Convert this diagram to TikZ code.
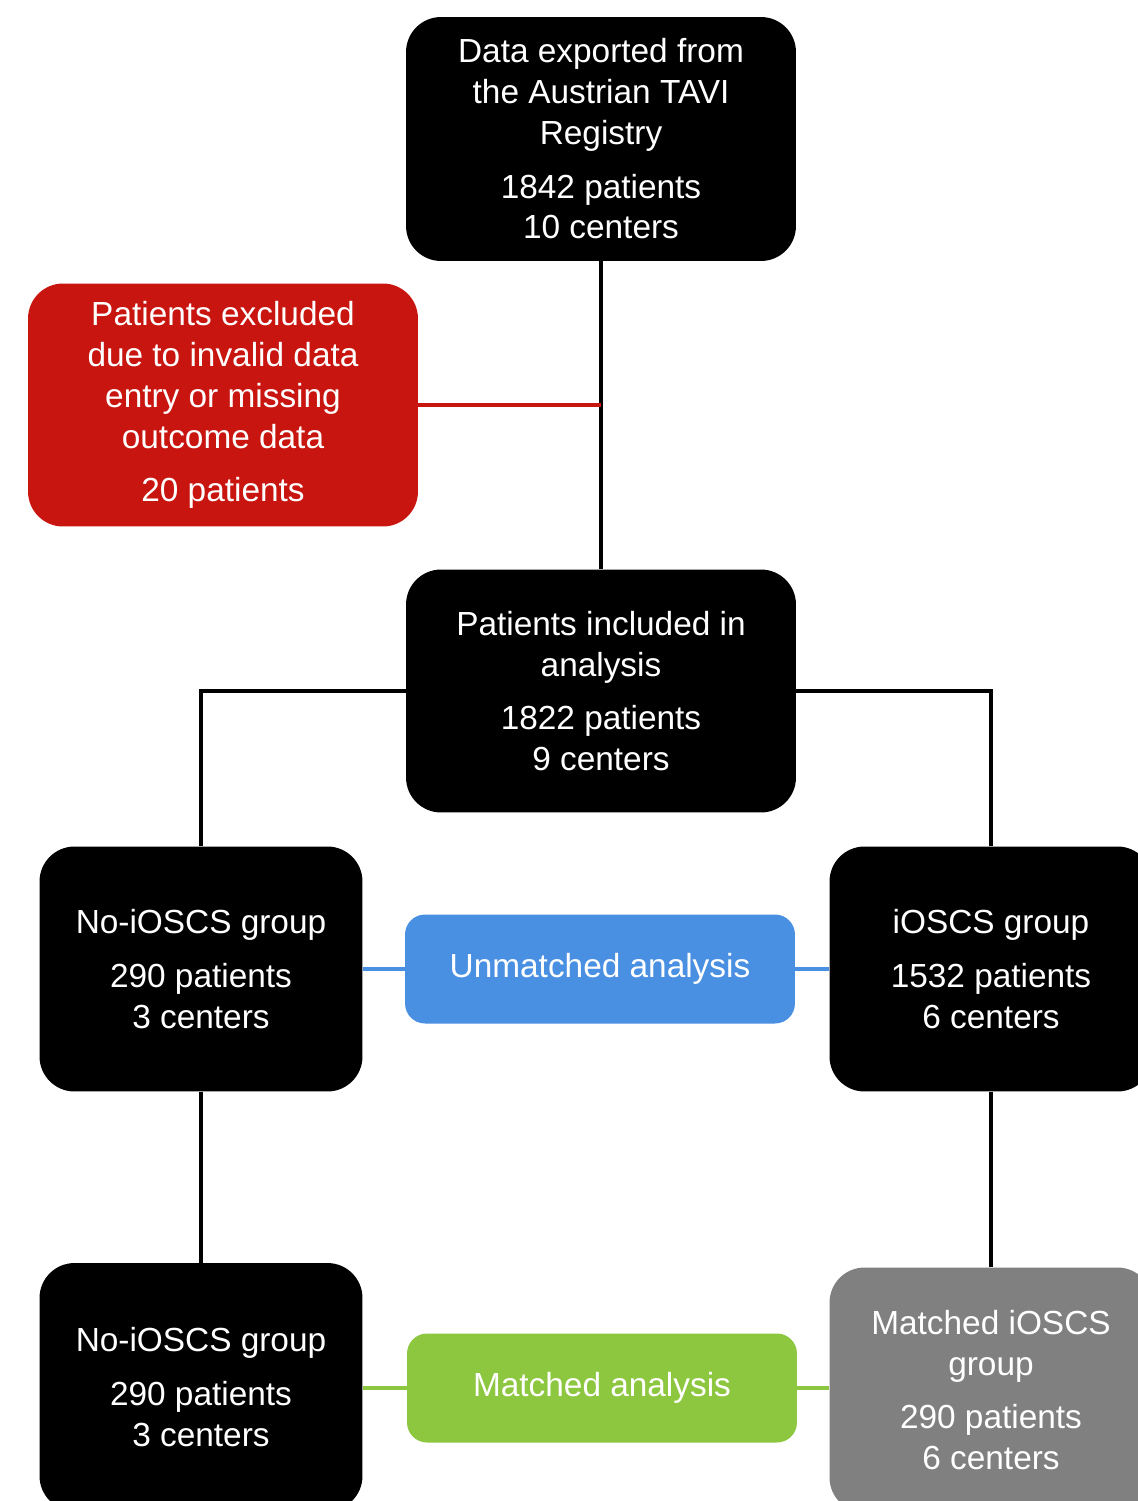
\documentclass[tikz,border=0pt]{standalone}
\usepackage{fontspec}
\setmainfont{Liberation Sans}
\definecolor{boxred}{HTML}{C9150F}
\definecolor{boxblue}{HTML}{4A90E2}
\definecolor{boxgreen}{HTML}{8DC63F}
\definecolor{boxgray}{HTML}{808080}
\tikzset{
  flowbox/.style={fill=black, text=white, rounded corners=0.7cm, align=center,
    inner sep=0pt, font=\fontsize{19}{23.3}\selectfont},
  widebox/.style={flowbox, minimum width=7.8cm, minimum height=4.88cm},
  groupbox/.style={flowbox, minimum width=6.46cm, minimum height=4.9cm},
  analysisbox/.style={flowbox, rounded corners=0.4cm, minimum width=7.8cm, minimum height=2.18cm},
  link/.style={line width=2pt}
}
\begin{document}
\begin{tikzpicture}[x=0.02cm, y=-0.02cm]
  \useasboundingbox (0,0) rectangle (1138,1501);
  \clip (0,0) rectangle (1138,1501);
  \node[widebox] (export) at (601,139)
    {Data exported from\\the Austrian TAVI\\Registry\\[7pt]1842 patients\\10 centers};
  \node[widebox, fill=boxred, minimum height=4.86cm] (excl) at (223,405)
    {Patients excluded\\due to invalid data\\entry or missing\\outcome data\\[7pt]20 patients};
  \node[widebox, minimum height=4.86cm] (incl) at (601,691)
    {Patients included in\\analysis\\[7pt]1822 patients\\9 centers};
  \node[groupbox] (noa) at (201,969)
    {No-iOSCS group\\[7pt]290 patients\\3 centers};
  \node[groupbox] (yesa) at (991,969)
    {iOSCS group\\[7pt]1532 patients\\6 centers};
  \node[analysisbox, fill=boxblue] (unmatched) at (600,969) {Unmatched analysis};
  \node[groupbox, minimum height=4.96cm] (nob) at (201,1387)
    {No-iOSCS group\\[7pt]290 patients\\3 centers};
  \node[groupbox, fill=boxgray, minimum height=4.9cm] (yesb) at (991,1390)
    {Matched iOSCS\\group\\[7pt]290 patients\\6 centers};
  \node[analysisbox, fill=boxgreen] (matched) at (602,1388) {Matched analysis};
  % connectors
  \coordinate (junction) at (excl.east -| export.south);
  \draw[link] (export) -- (incl);
  \draw[link, boxred] (excl) -- (junction);
  \draw[link] (incl.west) -| (noa);
  \draw[link] (incl.east) -| (yesa);
  \draw[link] (noa) -- (nob);
  \draw[link] (yesa) -- (yesb);
  \draw[link, boxblue] (noa) -- (unmatched) -- (yesa);
  \draw[link, boxgreen] (nob.east |- matched) -- (matched) -- (yesb.west |- matched);
\end{tikzpicture}
\end{document}
